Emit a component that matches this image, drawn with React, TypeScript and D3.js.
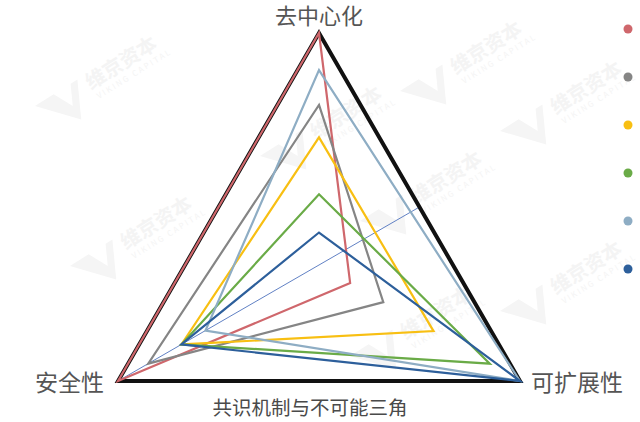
import React, { useEffect, useRef } from 'react'
import * as d3 from 'd3'

const axes: string[] = ['去中心化', '可扩展性', '安全性']
const seriesNames: string[] = ['系列0', '系列1', '系列2', '系列3', '系列4', '系列5', '系列6']
const seriesColors: string[] = ['#111111', '#cf676c', '#858585', '#f8bf12', '#6aab47', '#8eadc4', '#2d5f9b']
// values per series, order = axes
const seriesValues: number[][] = [
  [10, 10, 10],
  [10, 1.55, 10],
  [6.9, 3.2, 8.5],
  [5.5, 5.7, 6.85],
  [3.05, 8.5, 6.85],
  [8.4, 10, 5.65],
  [1.4, 10, 6.85],
]
const title = '共识机制与不可能三角'
const watermarks: [number, number][] = [
  [95, 85], [460, 70], [560, 110], [420, 200], [130, 245],
  [410, 335], [560, 290], [320, 135],
]

export default function App() {
  const svgRef = useRef<SVGSVGElement | null>(null)
  const width = 640
  const height = 422
  const cx = 319
  const cy = 265
  const R = 232

  useEffect(() => {
    const svg = d3.select(svgRef.current)
    svg.selectAll('*').remove()

    const r = d3.scaleLinear().domain([0, 10]).range([0, R])
    const angle = (i: number) => -Math.PI / 2 + (i * 2 * Math.PI) / axes.length
    const pt = (v: number, i: number): [number, number] => [
      cx + r(v) * Math.cos(angle(i)),
      cy + r(v) * Math.sin(angle(i)),
    ]

    // faint watermarks
    const wm = svg.append('g').attr('fill', '#f4f4f4').attr('font-family', '"Noto Sans CJK SC", sans-serif')
    watermarks.forEach(([x, y]) => {
      const g = wm.append('g').attr('transform', `translate(${x},${y}) rotate(-32)`)
      g.append('path').attr('d', 'M-62,-14 L-40,-14 L-30,6 L-20,-14 L-12,-14 L-30,22 Z').attr('fill', '#f5f5f5')
      g.append('text').attr('x', -6).attr('y', 2).attr('font-size', 20).attr('font-weight', 700).text('维京资本')
      g.append('text').attr('x', -4).attr('y', 14).attr('font-size', 8).attr('letter-spacing', 2).text('VIKING CAPITAL')
    })

    const line = d3.line<[number, number]>().curve(d3.curveLinearClosed)

    // thin reference line through the centre
    const a = pt(10, 2)
    const b = pt(-5, 2)
    svg.append('line')
      .attr('x1', a[0]).attr('y1', a[1]).attr('x2', b[0]).attr('y2', b[1])
      .attr('stroke', '#4f73bd').attr('stroke-width', 0.9)

    seriesValues.forEach((vals, s) => {
      svg.append('path')
        .attr('d', line(vals.map((v, i) => pt(v, i))))
        .attr('fill', 'none')
        .attr('stroke', seriesColors[s])
        .attr('stroke-width', s === 0 ? 4 : 2.2)
        .attr('stroke-linejoin', 'miter')
    })

    // axis labels
    const lab = svg.append('g')
      .attr('font-family', '"Noto Sans CJK SC", sans-serif')
      .attr('font-size', 23)
      .attr('fill', '#555555')
    lab.append('text').attr('x', cx).attr('y', 14).attr('font-size', 22).attr('text-anchor', 'middle').attr('dominant-baseline', 'central').text(axes[0])
    lab.append('text').attr('x', pt(10, 1)[0] + 11).attr('y', pt(10, 1)[1]).attr('dominant-baseline', 'central').text(axes[1])
    lab.append('text').attr('x', pt(10, 2)[0] - 14).attr('y', pt(10, 2)[1]).attr('text-anchor', 'end').attr('dominant-baseline', 'central').text(axes[2])

    svg.append('text')
      .attr('x', 310).attr('y', 406)
      .attr('text-anchor', 'middle').attr('dominant-baseline', 'central')
      .attr('font-family', '"Noto Sans CJK SC", sans-serif')
      .attr('font-size', 19.5).attr('fill', '#4a4a4a')
      .text(title)

    // legend markers (labels lie outside the frame)
    const legendY = d3.scaleLinear().domain([0, 1]).range([-19, 29])
    svg.append('g').selectAll('circle')
      .data(seriesNames)
      .join('circle')
      .attr('cx', 628)
      .attr('cy', (_, i) => legendY(i))
      .attr('r', 4.5)
      .attr('fill', (_, i) => seriesColors[i])
  }, [])

  return (
    <svg
      ref={svgRef}
      width={width}
      height={height}
      style={{ position: 'absolute', left: 0, top: 0, background: '#ffffff' }}
    />
  )
}
